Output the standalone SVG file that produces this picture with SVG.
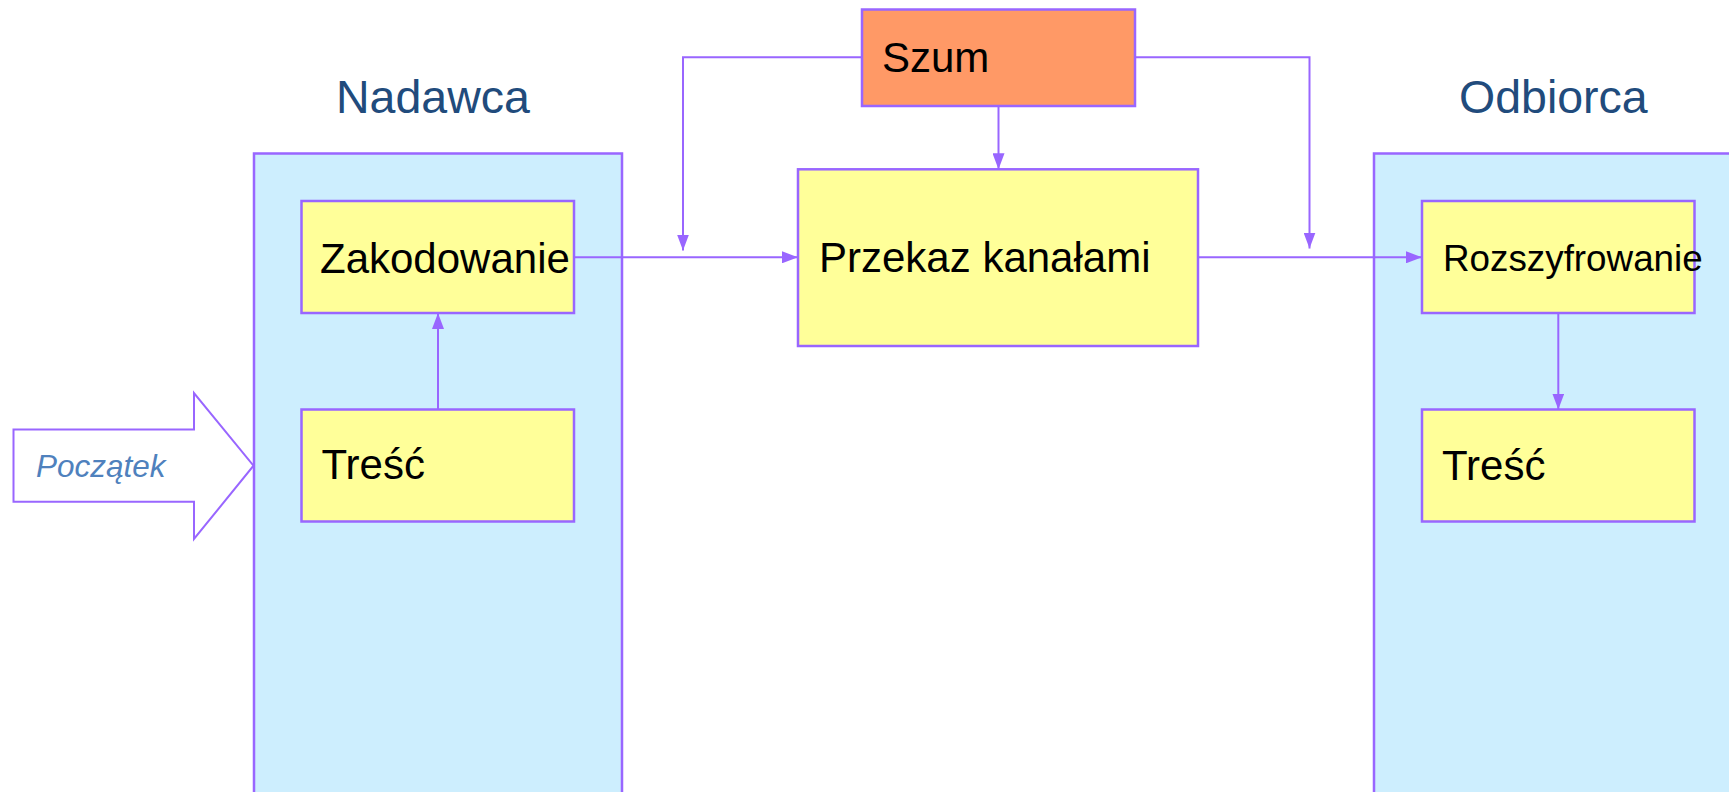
<svg xmlns="http://www.w3.org/2000/svg" width="1729" height="792" viewBox="0 0 1729 792">
<style>
.cont{fill:#cdeefe;stroke:#9966ff;stroke-width:2.5}
.box{fill:#ffff99;stroke:#9966ff;stroke-width:2.5}
.noise{fill:#ff9966;stroke:#9966ff;stroke-width:2.5}
.lbl{font-family:"Liberation Sans",Arial,sans-serif;font-size:42px;fill:#000}
.small{font-size:36.8px}
.title{font-family:"Liberation Sans",Arial,sans-serif;font-size:46.5px;fill:#214b7c}
.conn{fill:none;stroke:#9966ff;stroke-width:2}
</style>
<defs>
<marker id="ah" viewBox="0 0 16 12" refX="16" refY="6" markerWidth="16" markerHeight="12" markerUnits="userSpaceOnUse" orient="auto">
<path d="M0,0 L16,6 L0,12 Z" fill="#9966ff"/>
</marker>
</defs>
<rect width="1729" height="792" fill="#ffffff"/>
<g id="nadawca">
<rect class="cont" x="254" y="153.5" width="368" height="660"/>
<text class="title" x="336" y="113">Nadawca</text>
</g>
<g id="odbiorca">
<rect class="cont" x="1374" y="153.5" width="368" height="660"/>
<text class="title" x="1459" y="113">Odbiorca</text>
</g>
<g id="poczatek">
<path d="M13.5,429.5 L194,429.5 L194,393 L253.5,465.7 L194,539 L194,501.7 L13.5,501.7 Z" fill="#ffffff" stroke="#9966ff" stroke-width="2"/>
<text x="36" y="476.7" font-family="Liberation Sans, Arial, sans-serif" font-size="31.5" font-style="italic" fill="#4f81bd">Początek</text>
</g>
<g id="szum">
<rect class="noise" x="862" y="9.5" width="273" height="96.5"/>
<text class="lbl" x="882" y="71.7">Szum</text>
</g>
<g id="zakodowanie">
<rect class="box" x="301.5" y="201" width="272.5" height="112"/>
<text class="lbl" x="320" y="272.7">Zakodowanie</text>
</g>
<g id="tresc-nadawca">
<rect class="box" x="301.5" y="409.5" width="272.5" height="112"/>
<text class="lbl" x="321.5" y="479.3">Treść</text>
</g>
<g id="przekaz">
<rect class="box" x="798" y="169.3" width="400" height="176.7"/>
<text class="lbl" x="819" y="271.7">Przekaz kanałami</text>
</g>
<g id="rozszyfrowanie">
<rect class="box" x="1422" y="201" width="272.5" height="112"/>
<text class="lbl small" x="1443" y="270.7">Rozszyfrowanie</text>
</g>
<g id="tresc-odbiorca">
<rect class="box" x="1422" y="409.5" width="272.5" height="112"/>
<text class="lbl" x="1442" y="480">Treść</text>
</g>
<g id="connectors">
<line class="conn" x1="438" y1="409.5" x2="438" y2="313" marker-end="url(#ah)"/>
<line class="conn" x1="574" y1="257.3" x2="798" y2="257.3" marker-end="url(#ah)"/>
<line class="conn" x1="1198" y1="257.3" x2="1422" y2="257.3" marker-end="url(#ah)"/>
<line class="conn" x1="998.5" y1="106" x2="998.5" y2="169.3" marker-end="url(#ah)"/>
<polyline class="conn" points="862,57.3 683,57.3 683,250.5" marker-end="url(#ah)"/>
<polyline class="conn" points="1135,57.3 1309.5,57.3 1309.5,248.5" marker-end="url(#ah)"/>
<line class="conn" x1="1558.3" y1="313" x2="1558.3" y2="409.5" marker-end="url(#ah)"/>
</g>
</svg>
